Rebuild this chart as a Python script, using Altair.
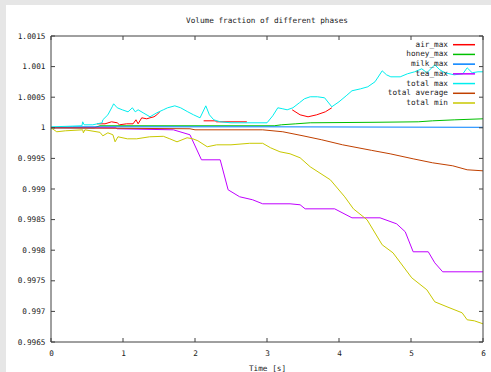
import altair as alt
import pandas as pd

MONO = "DejaVu Sans Mono"
INK = "#222222"
FRAME = "#404040"
FS = 7.7

SERIES = ["air_max", "honey_max", "milk_max", "tea_max",
          "total max", "total average", "total min"]
COLORS = ["#ff0000", "#00c000", "#0080ff", "#c000ff",
          "#00eeee", "#c04000", "#c8c800"]

X_TICKS = [0, 1, 2, 3, 4, 5, 6]
Y_TICKS = [0.9965, 0.997, 0.9975, 0.998, 0.9985, 0.999,
           0.9995, 1.0, 1.0005, 1.001, 1.0015]

# air_max: only the stretches where it sits apart from the other curves
air_t = [0.64, 0.75, 0.84, 0.92, 0.95, 1.05, 1.14, 1.18, 1.21, 1.26, 1.33, 1.375, 1.43, 1.47, 1.51,
         2.12, 2.28, 2.30, 2.72,
         3.35, 3.46, 3.57, 3.69, 3.81, 3.90]
air_v = [1.000065, 1.000065, 1.000098, 1.000082, 1.000049, 1.000065, 1.000065, 1.000131, 1.000065,
         1.000163, 1.000147, 1.000163, 1.00018, 1.000212, 1.000261,
         1.000114, 1.000114, 1.000098, 1.000098,
         1.000294, 1.000212, 1.00018, 1.000212, 1.000261, 1.000327]
air_seg = [0] * 15 + [1] * 4 + [2] * 6

honey_t = [0, 0.6, 0.68, 3.0, 3.1, 3.2, 3.4, 3.6, 4.5, 5.1, 5.3, 5.6, 6.0]
honey_v = [1.0, 1.0, 1.000033, 1.000033, 1.000033, 1.000049, 1.000065, 1.000082,
           1.00009, 1.000098, 1.000114, 1.00013, 1.000147]

milk_t = [0, 0.3, 3.0, 6.0]
milk_v = [1.0, 1.000016, 1.000016, 1.000008]

tea_t = [0, 0.9, 0.92, 1.7, 1.93, 2.09, 2.35, 2.46, 2.62, 2.8, 2.94, 3.32, 3.46, 3.53,
         3.94, 4.18, 4.57, 4.8, 4.92, 5.03, 5.24, 5.33, 5.44, 6.0]
tea_v = [1.0, 1.0, 0.999984, 0.999967, 0.999886, 0.999477, 0.999477, 0.998987, 0.998873,
         0.998824, 0.998758, 0.998758, 0.998742, 0.998676, 0.998676, 0.998529, 0.998529,
         0.998431, 0.998301, 0.997974, 0.997974, 0.997794, 0.997647, 0.997647]

tmax_t = [0, 0.25, 0.43, 0.44, 0.46, 0.58, 0.71, 0.72, 0.79, 0.85, 0.87, 0.92, 0.99, 1.07,
          1.13, 1.17, 1.21, 1.28, 1.375, 1.47, 1.56, 1.62, 1.72, 1.8, 1.9, 1.98, 2.07, 2.15,
          2.2, 2.26, 2.35, 2.5, 2.75, 3.0, 3.08, 3.15, 3.22, 3.28, 3.36, 3.45, 3.52, 3.6,
          3.7, 3.8, 3.9, 4.0, 4.1, 4.18, 4.3, 4.4, 4.5, 4.6, 4.66, 4.72, 4.85, 4.95, 5.05,
          5.15, 5.22, 5.33, 5.4, 5.47, 5.6, 5.72, 5.78, 5.85, 5.93, 6.0]
tmax_v = [1.000016, 1.000025, 1.000033, 1.000098, 1.000049, 1.000049, 1.000082, 1.000131,
          1.000212, 1.000343, 1.000392, 1.000327, 1.000294, 1.000261, 1.000327, 1.000261,
          1.000294, 1.000245, 1.00018, 1.000245, 1.000294, 1.000327, 1.000359, 1.000327,
          1.000261, 1.000212, 1.000163, 1.000359, 1.000212, 1.000131, 1.000098, 1.000082,
          1.000082, 1.000082, 1.000196, 1.000327, 1.00031, 1.000294, 1.000327, 1.000409,
          1.000474, 1.000507, 1.000507, 1.00049, 1.000343, 1.000425, 1.000523, 1.000605,
          1.000637, 1.00067, 1.000752, 1.000931, 1.000866, 1.000833, 1.000833, 1.000882,
          1.000915, 1.000964, 1.000899, 1.001029, 1.000948, 1.000899, 1.000866, 1.000882,
          1.00098, 1.000899, 1.000915, 1.000915]

tavg_t = [0, 1.93, 2.0, 2.94, 3.22, 3.5, 3.76, 4.05, 4.45, 4.71, 5.03, 5.3, 5.58, 5.78, 6.0]
tavg_v = [1.0, 0.999984, 0.999967, 0.999967, 0.999935, 0.999869, 0.999804, 0.999722,
          0.999632, 0.999575, 0.999493, 0.999428, 0.999379, 0.999314, 0.999297]

tmin_t = [0, 0.08, 0.2, 0.44, 0.45, 0.47, 0.68, 0.72, 0.79, 0.86, 0.89, 0.93, 1.06, 1.19,
          1.37, 1.56, 1.65, 1.75, 1.89, 1.97, 2.04, 2.17, 2.3, 2.5, 2.76, 2.94, 3.05, 3.18,
          3.32, 3.46, 3.6, 3.88, 4.08, 4.2, 4.39, 4.6, 4.75, 5.01, 5.22, 5.33, 5.5, 5.71,
          5.78, 5.88, 6.0]
tmin_v = [1.0, 0.999935, 0.999951, 0.999967, 0.999918, 0.999967, 0.999926, 0.999869,
          0.999918, 0.999886, 0.999771, 0.999853, 0.99982, 0.99982, 0.999853, 0.999861,
          0.99982, 0.999771, 0.999837, 0.99982, 0.999788, 0.99969, 0.999722, 0.999722,
          0.999747, 0.999747, 0.999673, 0.999608, 0.999575, 0.99951, 0.999363, 0.99915,
          0.998872, 0.998676, 0.998497, 0.998088, 0.997957, 0.997549, 0.997353, 0.997157,
          0.997075, 0.996977, 0.996863, 0.996846, 0.996797]

TITLE = "Volume fraction of different phases"
X_TITLE = "Time [s]"


def frame(name, ts, vs, segs=None):
    if segs is None:
        segs = [0] * len(ts)
    return pd.DataFrame({"series": name, "t": ts, "v": vs, "seg": segs})


tables = [
    frame("air_max", air_t, air_v, air_seg),
    frame("honey_max", honey_t, honey_v),
    frame("milk_max", milk_t, milk_v),
    frame("tea_max", tea_t, tea_v),
    frame("total max", tmax_t, tmax_v),
    frame("total average", tavg_t, tavg_v),
    frame("total min", tmin_t, tmin_v),
]

W, H = 432, 306
xscale = alt.Scale(domain=[0, 6], nice=False, zero=False)
yscale = alt.Scale(domain=[0.9965, 1.0015], nice=False, zero=False)
cscale = alt.Scale(domain=SERIES, range=COLORS)

one = pd.DataFrame({"k": [0]})

# white panel behind the plot, inside the grey page border
panel = alt.Chart(one).mark_rect(fill="white").encode(
    x=alt.value(-45), x2=alt.value(W + 8), y=alt.value(-31), y2=alt.value(H + 30)
)

# plot heading, drawn as text so that it sits over the white panel
heading = alt.Chart(pd.DataFrame({"label": [TITLE]})).mark_text(
    align="center", baseline="middle", font=MONO, fontSize=FS, color=INK
).encode(x=alt.value(W / 2), y=alt.value(-15), text="label:N")

x_axis = alt.Axis(values=X_TICKS, format="d", ticks=False, domain=False, grid=False,
                  labelFont=MONO, labelFontSize=FS, labelColor=INK, labelPadding=7,
                  labelFlush=False, labelOverlap=False, title=X_TITLE, titleFont=MONO,
                  titleFontSize=FS, titleFontWeight="normal", titleColor=INK,
                  titlePadding=8, zindex=1)
y_axis = alt.Axis(values=Y_TICKS, format=".4~f", ticks=False, domain=False, grid=False,
                  labelFont=MONO, labelFontSize=FS, labelColor=INK, labelPadding=6,
                  labelFlush=False, labelOverlap=False, title=None, zindex=1)

X = alt.X("t:Q", scale=xscale, axis=x_axis)

line_layers = []
for i, tb in enumerate(tables):
    line_layers.append(
        alt.Chart(tb).mark_line(strokeWidth=1, color=COLORS[i]).encode(
            x=X,
            y=alt.Y("v:Q", scale=yscale, axis=y_axis if i == 0 else None),
            detail="seg:N",
        )
    )

xt = pd.DataFrame({"t": X_TICKS})
yt = pd.DataFrame({"v": Y_TICKS})
TL = 4
tick_bottom = alt.Chart(xt).mark_rule(color=FRAME).encode(
    x=X, y=alt.value(H), y2=alt.value(H - TL))
tick_top = alt.Chart(xt).mark_rule(color=FRAME).encode(
    x=X, y=alt.value(0), y2=alt.value(TL))
tick_left = alt.Chart(yt).mark_rule(color=FRAME).encode(
    y=alt.Y("v:Q", scale=yscale, axis=None), x=alt.value(0), x2=alt.value(TL))
tick_right = alt.Chart(yt).mark_rule(color=FRAME).encode(
    y=alt.Y("v:Q", scale=yscale, axis=None), x=alt.value(W), x2=alt.value(W - TL))

border = alt.Chart(one).mark_rect(fill=None, stroke=FRAME, strokeWidth=1).encode(
    x=alt.value(0), x2=alt.value(W), y=alt.value(0), y2=alt.value(H))

# key in the top right corner: label, then a short sample of the line
key = pd.DataFrame({"series": SERIES, "row": list(range(len(SERIES)))})
key_y = alt.Y("row:O", scale=alt.Scale(type="point", range=[8.7, 67], padding=0), axis=None)
key_text = alt.Chart(key).mark_text(
    align="right", baseline="middle", font=MONO, fontSize=FS, color=INK
).encode(x=alt.value(397), y=key_y, text="series:N")
key_line = alt.Chart(key).mark_rule(strokeWidth=1.5).encode(
    x=alt.value(402), x2=alt.value(424), y=key_y,
    color=alt.Color("series:N", scale=cscale, legend=None))

chart = alt.layer(
    panel, heading, *line_layers, tick_bottom, tick_top, tick_left, tick_right, border,
    key_line, key_text
).resolve_scale(y="independent").properties(
    width=W, height=H,
    autosize=alt.AutoSizeParams(type="none"),
    padding={"left": 51, "top": 36, "right": 8, "bottom": 30},
    background="#e6e6e6",
).configure_view(stroke=None)

chart.save("out.html", embed_options={"renderer": "svg", "actions": False})
